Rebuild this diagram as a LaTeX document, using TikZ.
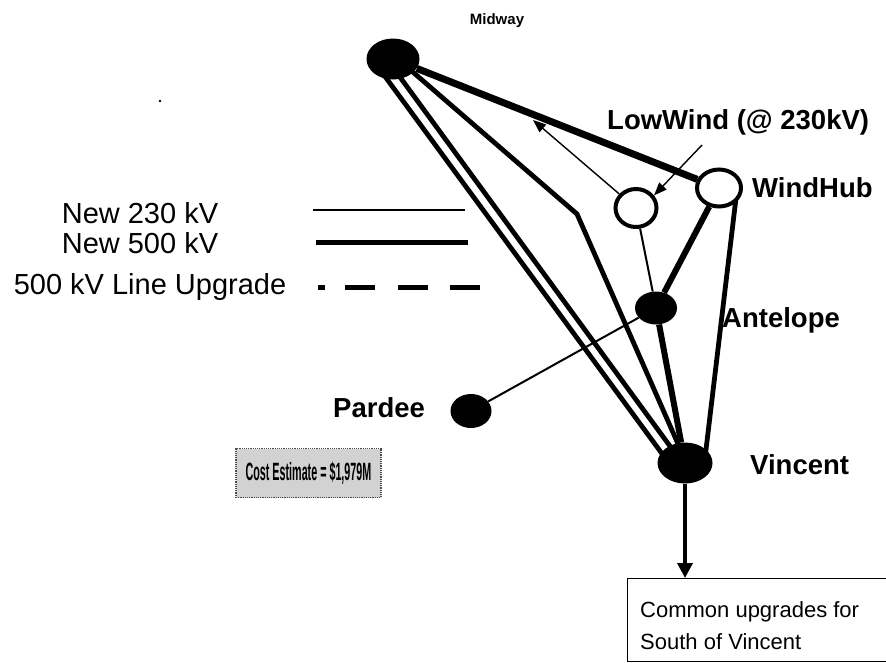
\documentclass[tikz,border=0pt]{standalone}
\usepackage{fontspec}
\usepackage{graphicx}
\setmainfont{Liberation Sans}
\usetikzlibrary{shapes.geometric,arrows.meta,backgrounds}
\begin{document}
\begin{tikzpicture}[x=1pt,y=-1pt,
 bus/.style={ellipse,fill=black,inner sep=0pt},
 openbus/.style={ellipse,draw=black,line width=4pt,fill=white,inner sep=0pt},
 lbl/.style={font=\bfseries\fontsize{27.5}{30}\selectfont,anchor=west,inner sep=0pt},
 legtext/.style={font=\fontsize{29}{33}\selectfont,inner sep=0pt},
 kvthin/.style={line width=2pt},
 kvmid/.style={line width=4.8pt},
 kvthick/.style={line width=6pt},
 kvheavy/.style={line width=7pt},
 thinarrow/.style={line width=1.4pt,-{Triangle[length=13pt,width=10pt]}},
]
\useasboundingbox (0,0) rectangle (886,662);

% speck
\fill (160,101) circle (1.3pt);

% buses
\node[bus,minimum width=53pt,minimum height=41pt] (midway) at (393,59) {};
\node[openbus,minimum width=41pt,minimum height=38pt] (lowwind) at (636,208) {};
\node[openbus,minimum width=44pt,minimum height=37pt] (windhub) at (719,188) {};
\node[bus,minimum width=42pt,minimum height=33pt] (antelope) at (656,308) {};
\node[bus,minimum width=41pt,minimum height=34pt] (pardee) at (471,411) {};
\node[bus,minimum width=55pt,minimum height=41pt] (vincent) at (685,463) {};
\coordinate (bend) at (577,214);

% connectors behind buses
\begin{scope}[on background layer]
\draw[kvheavy] (midway) -- (windhub);
\draw[kvmid] ([shift={(-12,12)}]midway.center) -- ([shift={(-22,-8)}]vincent.center);
\draw[kvmid] ([shift={(4,14)}]midway.center) -- ([shift={(-10,-10)}]vincent.center);
\draw[kvmid,line join=miter] ([shift={(14,8)}]midway.center) -- (bend) -- ([shift={(-3,-10)}]vincent.center);
\draw[kvthick] (antelope) -- (vincent);
\draw[kvthick] (windhub) -- (antelope);
\draw[kvmid] ([shift={(17,10)}]windhub.center) -- ([shift={(20,-5)}]vincent.center);
\draw[kvthin] (lowwind) -- (antelope);
\draw[kvthin] (pardee) -- (antelope);
\end{scope}

% labels
\node[font=\bfseries\fontsize{15}{18}\selectfont] (midwaylbl) at (497,21) {Midway};
\node[lbl] (lowwindlbl) at (607,122) {LowWind (@ 230kV)};
\node[lbl] (windhublbl) at (752,188) {WindHub};
\node[lbl] (antelopelbl) at (722,320) {Antelope};
\node[lbl] (pardeelbl) at (333,408) {Pardee};
\node[lbl] (vincentlbl) at (750,465) {Vincent};

% LowWind arrows
\coordinate (nwtip) at (533,120);
\coordinate (lwtail) at (702,145);
\draw[thinarrow] (lowwind.140) -- (nwtip);
\draw[thinarrow] (lwtail) -- (lowwind.35);

% legend
\node[legtext] (leg1) at (140,213) {New 230 kV};
\node[legtext] (leg2) at (140,243) {New 500 kV};
\node[legtext] (leg3) at (150,287) {500 kV Line Upgrade};
\coordinate (l1a) at (313,210); \coordinate (l1b) at (465,210);
\coordinate (l2a) at (316,242); \coordinate (l2b) at (468,242);
\coordinate (l3a) at (318,287); \coordinate (l3b) at (480,287);
\draw[line width=2.5pt] (l1a) -- (l1b);
\draw[line width=5pt] (l2a) -- (l2b);
\draw[line width=5pt,dash pattern=on 7pt off 20pt on 30pt off 23pt on 30pt off 22pt on 30pt] (l3a) -- (l3b);

% cost box
\node[draw=gray!60!black,densely dotted,line width=1.2pt,fill=gray!35,minimum width=145pt,minimum height=49pt,inner sep=0pt] (cost) at (308.5,473)
 {\scalebox{0.43}[1]{\bfseries\fontsize{25}{28}\selectfont Cost Estimate = \$1,979M}};

% common upgrades box
\node[draw,line width=1pt,minimum width=259pt,minimum height=83pt,anchor=north west,inner sep=0pt] (common) at (627,578) {};
\node[anchor=north west,align=left,inner sep=0pt,font=\fontsize{22}{32}\selectfont] (commontext) at ([shift={(13,23)}]common.north west) {Common upgrades for\\South of Vincent};
\draw[line width=3.5pt,-{Triangle[length=15pt,width=15pt]}] (vincent.south) -- (vincent.south |- common.north);
\end{tikzpicture}
\end{document}
